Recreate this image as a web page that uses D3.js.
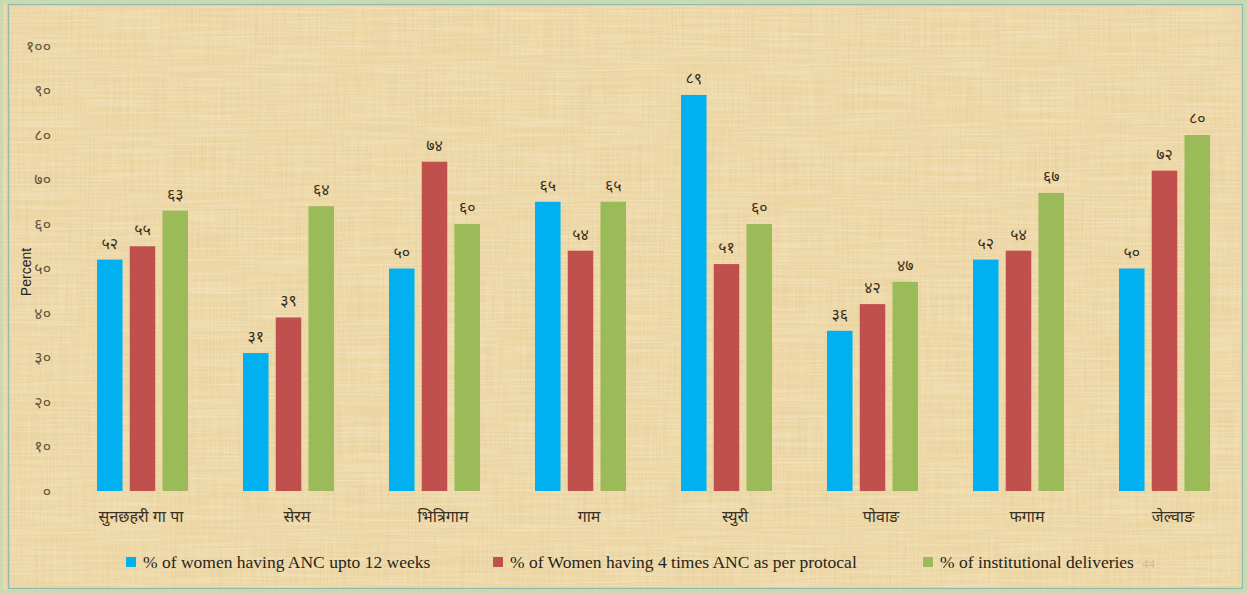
<!DOCTYPE html>
<html>
<head>
<meta charset="utf-8">
<script src="https://cdn.jsdelivr.net/npm/d3@7"></script>
<style>
  body { margin: 0; background: #fff; }
  svg { display: block; }
  text { font-family: "Liberation Serif", "DejaVu Serif", serif; }
</style>
</head>
<body>
<svg id="chart" width="1247" height="593"></svg>
<script>
// data
var categories = ["सुनछहरी गा पा", "सेरम", "भित्रिगाम", "गाम", "स्युरी", "पोवाङ", "फगाम", "जेल्वाङ"];
var seriesNames = [
    "% of women having ANC upto 12 weeks",
    "% of Women having 4 times ANC as per protocal",
    "% of institutional deliveries"
];
var ancUpto12 = [52, 31, 50, 65, 89, 36, 52, 50];
var anc4Times = [55, 39, 74, 54, 51, 42, 54, 72];
var institutional = [63, 64, 60, 65, 60, 47, 67, 80];
var yTicks = [0, 10, 20, 30, 40, 50, 60, 70, 80, 90, 100];

var colors = ["#00b0f0", "#c0504d", "#9bbb59"];
var seriesValues = [ancUpto12, anc4Times, institutional];

// Nepali digits
function nep(n) {
    return String(n).replace(/[0-9]/g, function(c) { return String.fromCharCode(0x0966 + (+c)); });
}

var svg = d3.select("#chart");
var width = +svg.attr("width");
var height = +svg.attr("height");

// papyrus-ish background
var defs = svg.append("defs");
var f1 = defs.append("filter").attr("id", "grainV").attr("x", 0).attr("y", 0).attr("width", 1).attr("height", 1);
f1.append("feTurbulence").attr("type", "fractalNoise").attr("baseFrequency", "0.6 0.015").attr("numOctaves", 2).attr("seed", 3);
f1.append("feColorMatrix").attr("type", "matrix")
    .attr("values", "0 0 0 0 0.72  0 0 0 0 0.56  0 0 0 0 0.30  0 0 0 1.3 -0.45");
var f2 = defs.append("filter").attr("id", "grainH").attr("x", 0).attr("y", 0).attr("width", 1).attr("height", 1);
f2.append("feTurbulence").attr("type", "fractalNoise").attr("baseFrequency", "0.012 0.5").attr("numOctaves", 2).attr("seed", 7);
f2.append("feColorMatrix").attr("type", "matrix")
    .attr("values", "0 0 0 0 0.98  0 0 0 0 0.93  0 0 0 0 0.80  0 0 0 1.2 -0.45");

svg.append("rect").attr("width", width).attr("height", height).attr("fill", "#eed8a6");
svg.append("rect").attr("width", width).attr("height", height).attr("filter", "url(#grainV)").attr("opacity", 0.6);
svg.append("rect").attr("width", width).attr("height", height).attr("filter", "url(#grainH)").attr("opacity", 0.55);

// frame
svg.append("rect").attr("x", 1.5).attr("y", 1.5).attr("width", width - 3).attr("height", height - 3)
    .attr("fill", "none").attr("stroke", "#c9d9b0").attr("stroke-width", 3);
svg.append("rect").attr("x", 8.5).attr("y", 4.5).attr("width", width - 13).attr("height", height - 9)
    .attr("fill", "none").attr("stroke", "#8fbcb4").attr("stroke-width", 1.5);

// scales
var y = d3.scaleLinear().domain([0, 100]).range([491, 46]);
var x0 = d3.scaleBand().domain(categories).range([70, 1238]).padding(0);
var x1 = d3.scaleBand().domain([0, 1, 2]).range([27, 118]).paddingInner(0.22);

// y axis (labels only)
var yAxis = d3.axisLeft(y).tickValues(yTicks).tickFormat(nep).tickSize(0).tickPadding(0);
var gy = svg.append("g").attr("transform", "translate(51,0)").call(yAxis);
gy.select(".domain").remove();
gy.selectAll("text").attr("fill", "#65563c").attr("font-size", 16)
    .style("font-family", "'Noto Sans', sans-serif");

svg.append("text")
    .attr("transform", "translate(31,272) rotate(-90)")
    .attr("text-anchor", "middle")
    .attr("font-size", 14)
    .attr("fill", "#222")
    .style("font-family", "'Liberation Sans', Arial, sans-serif")
    .text("Percent");

// bars
var groups = svg.append("g").selectAll("g")
    .data(categories)
  .enter().append("g")
    .attr("transform", function(d) { return "translate(" + x0(d) + ",0)"; });

var cells = groups.selectAll("g.cell")
    .data(function(d, i) { return seriesValues.map(function(s, k) { return {k: k, v: s[i]}; }); })
  .enter().append("g").attr("class", "cell");

cells.append("rect")
    .attr("x", function(d) { return x1(d.k); })
    .attr("width", x1.bandwidth())
    .attr("y", function(d) { return y(d.v); })
    .attr("height", function(d) { return y(0) - y(d.v); })
    .attr("fill", function(d) { return colors[d.k]; });

cells.append("text")
    .attr("x", function(d) { return x1(d.k) + x1.bandwidth() / 2; })
    .attr("y", function(d) { return y(d.v) - 11; })
    .attr("text-anchor", "middle")
    .attr("font-size", 16)
    .attr("fill", "#3a3020")
    .style("font-family", "'Noto Sans', sans-serif")
    .text(function(d) { return nep(d.v); });

// x axis labels
var xAxis = d3.axisBottom(x0).tickSize(0).tickPadding(0);
var gx = svg.append("g").attr("transform", "translate(0,511)").call(xAxis);
gx.select(".domain").remove();
gx.selectAll("text").attr("font-size", 16).attr("fill", "#3a3020")
    .attr("dx", function(d, i) { return i === 0 ? -2 : 8; })
    .style("font-family", "'Noto Sans', sans-serif");

// legend
var legendX = [126, 493, 923];
var legend = svg.append("g").selectAll("g")
    .data(seriesNames)
  .enter().append("g")
    .attr("transform", function(d, i) { return "translate(" + legendX[i] + ",557)"; });
legend.append("rect").attr("width", 10).attr("height", 10)
    .attr("fill", function(d, i) { return colors[i]; });
legend.append("text").attr("x", 17).attr("y", 11).attr("font-size", 17.5).attr("fill", "#2a2418")
    .text(function(d) { return d; });

// faint page number
svg.append("text").attr("x", 1142).attr("y", 568).attr("font-size", 13).attr("fill", "#c8bca0")
    .text("44");
</script>
</body>
</html>
